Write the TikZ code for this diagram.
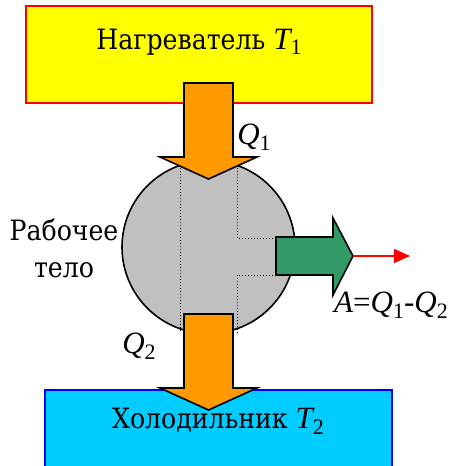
\documentclass[tikz,border=0pt]{standalone}
\usepackage{fontspec}
\setmainfont{DejaVu Serif Condensed}
\newfontfamily\libser{Liberation Serif}
\usetikzlibrary{arrows.meta}
\definecolor{hotfill}{HTML}{FFFF00}
\definecolor{coldfill}{HTML}{00CCFF}
\definecolor{heatorange}{HTML}{FF9900}
\definecolor{bodygray}{HTML}{C0C0C0}
\definecolor{workgreen}{HTML}{339966}
\tikzset{
  bigtext/.style={font=\fontsize{28}{37}\selectfont, inner sep=0pt},
  hotbox/.style={draw=red, fill=hotfill, line width=2pt, minimum width=346pt, minimum height=97pt, inner sep=0pt},
  coldbox/.style={draw=blue, fill=coldfill, line width=2pt, minimum width=347pt, minimum height=90pt, inner sep=0pt},
  bodycirc/.style={circle, draw=black, fill=bodygray, line width=1.6pt, minimum size=173pt, inner sep=0pt},
  heatarrow/.style={draw=black, fill=heatorange, line width=1.6pt, line join=miter},
  workarrow/.style={draw=black, fill=workgreen, line width=1.6pt, line join=miter},
  guide/.style={dotted, line width=1pt},
}
\newcommand{\lat}[1]{{\libser\fontsize{31}{37}\selectfont #1}}
\newcommand{\ivar}[1]{{\libser\fontsize{31}{37}\selectfont\itshape #1}}
\newcommand{\sub}[1]{\raisebox{-0.2em}{\libser\fontsize{22}{22}\selectfont #1}}
\begin{document}
\begin{tikzpicture}[x=1pt,y=-1pt]
\useasboundingbox (0,0) rectangle (451,466);
% heater
\node[hotbox] (heater) at (199,54.5) {};
\node[bigtext] (heatertext) at (199,42) {Нагреватель \ivar{T}\sub{1}};
% working body
\node[bodycirc] (body) at (208.5,247) {};
% dotted guides
\draw[guide] (180,165) -- (180,333);
\draw[guide] (237,165) -- (237,238) -- (276,238);
\draw[guide] (276,275) -- (237,275) -- (237,333);
% top heat arrow
\draw[heatarrow] (184,83) -- (233,83) -- (233,157) -- (257,157) -- (208.5,179) -- (160,157) -- (184,157) -- cycle;
% cooler
\node[coldbox] (cooler) at (218.5,435) {};
\node[bigtext] (coolertext) at (218,421) {Холодильник \ivar{T}\sub{2}};
% bottom heat arrow
\draw[heatarrow] (184,314) -- (233,314) -- (233,388) -- (257,388) -- (208.5,410) -- (160,388) -- (184,388) -- cycle;
% work arrow
\draw[workarrow] (276,237) -- (333,237) -- (333,218) -- (353,256) -- (333,295) -- (333,275) -- (276,275) -- cycle;
\coordinate (worktip) at (353,256);
\coordinate (workend) at (410,256);
\draw[red, line width=1.6pt, -{Triangle[length=16pt,width=14pt]}] (worktip) -- (workend);
% labels
\node[bigtext] (q1) at (254,137) {\ivar{Q}\sub{1}};
\node[bigtext] (q2) at (139,346) {\ivar{Q}\sub{2}};
\node[bigtext, align=center] (bodylabel) at (64,248) {Рабочее\\тело};
\node[bigtext] (work) at (391,305) {\ivar{A}\lat{=}\ivar{Q}\sub{1}\lat{-}\ivar{Q}\sub{2}};
\end{tikzpicture}
\end{document}
